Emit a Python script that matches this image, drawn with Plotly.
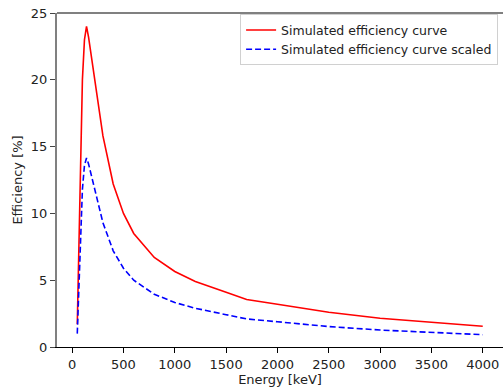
import plotly.graph_objects as go

energy = [50, 100, 120, 140, 160, 200, 300, 400, 500, 600, 800, 1000, 1200, 1500, 1700, 2000, 2500, 3000, 3500, 4000]
eff_sim = [1.7, 20.0, 23.0, 24.0, 23.2, 21.0, 15.8, 12.2, 10.0, 8.5, 6.7, 5.65, 4.9, 4.1, 3.55, 3.2, 2.6, 2.15, 1.85, 1.55]
eff_scaled = [1.0, 11.8, 13.6, 14.15, 13.7, 12.4, 9.3, 7.2, 5.9, 5.0, 3.95, 3.33, 2.9, 2.42, 2.1, 1.89, 1.53, 1.27, 1.09, 0.92]
x_ticks = [0, 500, 1000, 1500, 2000, 2500, 3000, 3500, 4000]
y_ticks = [0, 5, 10, 15, 20, 25]

FONT = "DejaVu Sans"
fig = go.Figure()
fig.add_trace(go.Scatter(x=energy, y=eff_sim, mode="lines", name="Simulated efficiency curve",
                         line=dict(color="red", width=1.6)))
fig.add_trace(go.Scatter(x=energy, y=eff_scaled, mode="lines", name="Simulated efficiency curve scaled",
                         line=dict(color="blue", width=1.6, dash="6px,3px")))

fig.update_layout(
    width=503, height=390,
    margin=dict(l=57, r=0, t=13, b=43),
    plot_bgcolor="white", paper_bgcolor="white",
    font=dict(family=FONT, size=13, color="#222"),
    showlegend=True,
    legend=dict(x=0.989, y=0.996, xanchor="right", yanchor="top",
                bgcolor="rgba(255,255,255,0.9)", bordercolor="#d0d0d0", borderwidth=1,
                font=dict(family=FONT, size=12.5, color="#222"), tracegroupgap=0),
    xaxis=dict(range=[-147.5, 4197.5], tickvals=x_ticks, showgrid=False, zeroline=False,
               showline=True, linecolor="black", linewidth=1.2, ticks="outside", ticklen=5,
               tickcolor="black", tickwidth=1,
               title=dict(text="Energy [keV]", font=dict(family=FONT, size=13), standoff=3)),
    yaxis=dict(range=[0, 25], tickvals=y_ticks, showgrid=False, zeroline=False,
               showline=True, linecolor="#808080", linewidth=2, ticks="outside", ticklen=5,
               tickcolor="#444", tickwidth=1,
               title=dict(text="Efficiency [%]", font=dict(family=FONT, size=13), standoff=5)),
)
fig.add_shape(type="line", xref="paper", yref="paper", x0=0, x1=1, y0=1, y1=1,
              line=dict(color="#808080", width=2))
fig.write_html("out.html")
